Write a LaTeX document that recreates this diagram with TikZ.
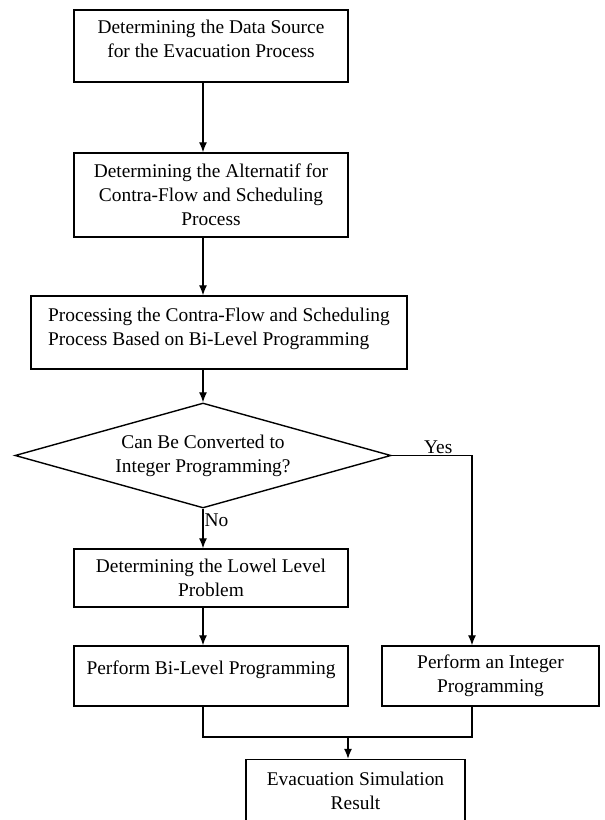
\documentclass[tikz,border=0pt]{standalone}
\usepackage{fontspec}
\setmainfont{Liberation Serif}
\usetikzlibrary{shapes.geometric,arrows.meta}

\begin{document}
\begin{tikzpicture}[x=1pt, y=1pt,
    box/.style={draw, line width=1.4pt, align=center, inner sep=4pt,
        font=\fontsize{19.4}{24}\selectfont},
    arr/.style={line width=1.3pt, -{Latex[length=10pt,width=8pt]}},
    link/.style={line width=1.3pt},
    tag/.style={font=\fontsize{19.4}{24}\selectfont, inner sep=1pt}]
    \useasboundingbox (0,0) rectangle (605,820);

    % Steps of the left column
    \node[box, minimum width=274, minimum height=72, text depth=14pt] (data) at (211,774)
        {Determining the Data Source\\for the Evacuation Process};
    \node[box, minimum width=274, minimum height=84] (alt) at (211,625)
        {Determining the Alternatif for\\Contra-Flow and Scheduling\\Process};
    \node[box, align=left, minimum width=376, minimum height=73, text depth=12pt] (proc) at (219,487.5)
        {Processing the Contra-Flow and Scheduling\\Process Based on Bi-Level Programming};
    \node[box, diamond, aspect=3.6, inner sep=0pt, minimum width=376, minimum height=105] (conv) at (203,364.5)
        {Can Be Converted to\\Integer Programming?};
    \node[box, minimum width=274, minimum height=58] (lowel) at (211,242)
        {Determining the Lowel Level\\Problem};
    \node[box, minimum width=274, minimum height=60, text depth=17pt] (bilev) at (211,144)
        {Perform Bi-Level Programming};

    % Right branch and the result
    \node[box, minimum width=217, minimum height=60] (intp) at (490.5,144)
        {Perform an Integer\\Programming};
    \node[box, minimum width=219, minimum height=62] (evac) at (355.5,29.5)
        {Evacuation Simulation\\Result};

    \coordinate (rcol) at (472,364.5);
    \coordinate (join) at (348,83);

    % Arrows down the left column
    \draw[arr] (data.south -| conv.north) -- (alt.north -| conv.north);
    \draw[arr] (alt.south -| conv.north) -- (proc.north -| conv.north);
    \draw[arr] (proc.south -| conv.north) -- (conv.north);
    \draw[arr] (conv.south) -- node[tag, right, pos=0.3] {No} (lowel.north -| conv.south);
    \draw[arr] (lowel.south -| conv.south) -- (bilev.north -| conv.south);

    % Yes branch
    \draw[arr] (conv.east) -- node[tag, above, pos=0.58] {Yes} (rcol) -- (rcol |- intp.north);

    % Both ways meet before the result
    \draw[link] (bilev.south -| conv.south) |- (join) -| (rcol |- intp.south);
    \draw[arr] (join) -- (join |- evac.north);
\end{tikzpicture}
\end{document}
